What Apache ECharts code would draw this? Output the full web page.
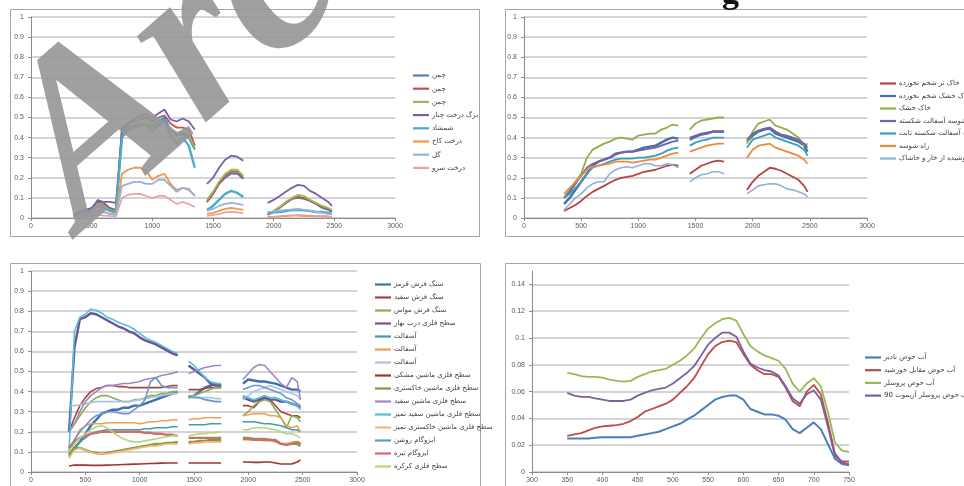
<!DOCTYPE html>
<html>
<head>
<meta charset="utf-8">
<script src="https://cdn.jsdelivr.net/npm/echarts@6/dist/echarts.min.js"></script>
<style>
  html, body { margin: 0; padding: 0; background: #fff; }
  #chart { width: 964px; height: 486px; }
</style>
</head>
<body>
<div id="chart"></div>
<script>
// wavelength grid (nm) for the three full-range panels, 1400 / 1850 are the absorption gaps
const wl = [350, 400, 450, 500, 550, 600, 650, 700, 750, 800, 850, 900, 950, 1000, 1050, 1100, 1150, 1200, 1250, 1300, 1350,
    1400,
    1450, 1500, 1550, 1600, 1650, 1700, 1750,
    1850,
    1950, 2000, 2050, 2100, 2150, 2200, 2250, 2300, 2350, 2400, 2450, 2480];

// panel 1 - vegetation
const p1Names = ['چمن|1', 'چمن|2', 'چمن|3', 'برگ درخت چنار', 'شمشاد', 'درخت کاج', 'گل', 'درخت سرو'];
const p1Colors = ['#4F81BD', '#C0504D', '#9BBB59', '#7B5FA6', '#4BACC6', '#F79646', '#8EB4E3', '#E6A0A0'];
const p1Widths = [1.8, 1.8, 1.8, 1.8, 2.4, 1.8, 1.8, 1.6];
const grass1 = [0.015, 0.025, 0.035, 0.045, 0.09, 0.075, 0.05, 0.04, 0.44, 0.46, 0.46, 0.47, 0.47, 0.46, 0.48, 0.50, 0.44, 0.41, 0.42, 0.40, 0.34,
    null, 0.08, 0.12, 0.17, 0.20, 0.22, 0.22, 0.195,
    null, 0.02, 0.035, 0.055, 0.075, 0.095, 0.10, 0.095, 0.085, 0.07, 0.05, 0.04, 0.03];
const grass2 = [0.01, 0.02, 0.03, 0.04, 0.08, 0.07, 0.045, 0.035, 0.45, 0.47, 0.48, 0.49, 0.50, 0.48, 0.50, 0.51, 0.47, 0.45, 0.45, 0.44, 0.36,
    null, 0.08, 0.12, 0.17, 0.21, 0.23, 0.23, 0.20,
    null, 0.015, 0.03, 0.05, 0.075, 0.095, 0.105, 0.10, 0.085, 0.07, 0.055, 0.045, 0.035];
const grass3 = [0.012, 0.02, 0.03, 0.04, 0.07, 0.06, 0.04, 0.03, 0.42, 0.45, 0.46, 0.47, 0.47, 0.45, 0.47, 0.48, 0.44, 0.42, 0.43, 0.41, 0.35,
    null, 0.09, 0.13, 0.18, 0.22, 0.24, 0.24, 0.21,
    null, 0.02, 0.035, 0.055, 0.08, 0.10, 0.115, 0.11, 0.09, 0.075, 0.06, 0.05, 0.04];
const plane = [0.02, 0.03, 0.04, 0.05, 0.085, 0.08, 0.08, 0.075, 0.43, 0.47, 0.49, 0.51, 0.515, 0.50, 0.52, 0.54, 0.49, 0.48, 0.495, 0.48, 0.44,
    null, 0.17, 0.20, 0.25, 0.29, 0.31, 0.305, 0.285,
    null, 0.075, 0.09, 0.11, 0.13, 0.15, 0.165, 0.16, 0.135, 0.12, 0.10, 0.08, 0.06];
const boxwood = [0.01, 0.015, 0.025, 0.035, 0.06, 0.05, 0.035, 0.025, 0.40, 0.44, 0.45, 0.46, 0.46, 0.43, 0.46, 0.49, 0.41, 0.37, 0.40, 0.36, 0.25,
    null, 0.04, 0.06, 0.09, 0.12, 0.135, 0.125, 0.105,
    null, 0.025, 0.028, 0.03, 0.035, 0.04, 0.04, 0.038, 0.035, 0.03, 0.03, 0.025, 0.02];
const pine = [0.005, 0.01, 0.015, 0.02, 0.035, 0.03, 0.02, 0.015, 0.22, 0.24, 0.25, 0.25, 0.235, 0.19, 0.21, 0.22, 0.17, 0.14, 0.15, 0.145, 0.11,
    null, 0.02, 0.025, 0.035, 0.045, 0.05, 0.045, 0.04,
    null, 0.005, 0.006, 0.008, 0.01, 0.012, 0.012, 0.01, 0.01, 0.008, 0.008, 0.007, 0.006];
const flower = [0.008, 0.012, 0.018, 0.022, 0.03, 0.028, 0.02, 0.015, 0.16, 0.17, 0.18, 0.18, 0.17, 0.17, 0.19, 0.19, 0.16, 0.13, 0.15, 0.14, 0.11,
    null, 0.035, 0.045, 0.06, 0.07, 0.075, 0.07, 0.065,
    null, 0.03, 0.032, 0.035, 0.04, 0.042, 0.045, 0.04, 0.035, 0.03, 0.025, 0.02, 0.02];
const cypress = [0.003, 0.005, 0.008, 0.01, 0.015, 0.012, 0.01, 0.008, 0.10, 0.115, 0.12, 0.12, 0.11, 0.10, 0.11, 0.11, 0.09, 0.07, 0.08, 0.07, 0.055,
    null, 0.01, 0.015, 0.02, 0.028, 0.03, 0.028, 0.025,
    null, 0.005, 0.006, 0.008, 0.012, 0.014, 0.015, 0.014, 0.012, 0.01, 0.01, 0.008, 0.007];
const p1Data = [grass1, grass2, grass3, plane, boxwood, pine, flower, cypress];

// panel 2 - soils and roads
const p2Names = ['خاک تر شخم نخورده', 'خاک خشک شخم نخورده', 'خاک خشک', 'راه شوسه آسفالت شکسته', 'راه شوسه آسفالت شکسته ثابت', 'راه شوسه', 'خاک پوشیده از خار و خاشاک'];
const p2Colors = ['#B8433F', '#4A6FA8', '#8DB04C', '#7361A8', '#3AA0B8', '#F08A3A', '#8FB0D8'];
const p2Widths = [1.8, 2.4, 1.8, 1.8, 1.8, 1.8, 1.6];
const wetSoil = [0.035, 0.05, 0.065, 0.085, 0.11, 0.13, 0.145, 0.16, 0.175, 0.19, 0.20, 0.205, 0.21, 0.22, 0.23, 0.235, 0.24, 0.25, 0.26, 0.265, 0.26,
    null, 0.22, 0.24, 0.26, 0.27, 0.28, 0.285, 0.28,
    null, 0.14, 0.18, 0.21, 0.23, 0.25, 0.245, 0.235, 0.22, 0.205, 0.19, 0.16, 0.13];
const drySoilUntilled = [0.07, 0.10, 0.14, 0.18, 0.22, 0.26, 0.28, 0.29, 0.30, 0.32, 0.325, 0.33, 0.33, 0.34, 0.35, 0.355, 0.36, 0.375, 0.39, 0.40, 0.395,
    null, 0.39, 0.405, 0.415, 0.42, 0.43, 0.43, 0.43,
    null, 0.38, 0.41, 0.43, 0.44, 0.445, 0.42, 0.41, 0.40, 0.39, 0.38, 0.36, 0.33];
const drySoil = [0.10, 0.14, 0.18, 0.22, 0.30, 0.34, 0.355, 0.37, 0.38, 0.395, 0.40, 0.395, 0.39, 0.41, 0.415, 0.42, 0.42, 0.44, 0.45, 0.465, 0.46,
    null, 0.44, 0.47, 0.485, 0.49, 0.495, 0.50, 0.50,
    null, 0.37, 0.43, 0.47, 0.48, 0.49, 0.46, 0.45, 0.44, 0.42, 0.40, 0.36, 0.37];
const brokenAsphalt = [0.10, 0.13, 0.17, 0.21, 0.25, 0.27, 0.28, 0.29, 0.30, 0.315, 0.325, 0.33, 0.33, 0.335, 0.34, 0.345, 0.35, 0.36, 0.37, 0.38, 0.385,
    null, 0.40, 0.41, 0.42, 0.425, 0.43, 0.43, 0.43,
    null, 0.39, 0.42, 0.435, 0.445, 0.45, 0.43, 0.415, 0.41, 0.40, 0.39, 0.37, 0.35];
const brokenAsphaltFixed = [0.10, 0.12, 0.15, 0.18, 0.22, 0.25, 0.26, 0.27, 0.28, 0.29, 0.295, 0.295, 0.295, 0.30, 0.30, 0.305, 0.31, 0.32, 0.335, 0.345, 0.35,
    null, 0.36, 0.375, 0.385, 0.39, 0.40, 0.40, 0.40,
    null, 0.35, 0.39, 0.40, 0.41, 0.42, 0.40, 0.39, 0.38, 0.37, 0.36, 0.34, 0.31];
const gravelRoad = [0.12, 0.15, 0.18, 0.21, 0.24, 0.255, 0.26, 0.265, 0.27, 0.28, 0.28, 0.28, 0.275, 0.28, 0.285, 0.29, 0.29, 0.30, 0.31, 0.32, 0.325,
    null, 0.33, 0.34, 0.35, 0.36, 0.365, 0.37, 0.37,
    null, 0.30, 0.34, 0.36, 0.365, 0.37, 0.35, 0.34, 0.33, 0.32, 0.31, 0.29, 0.27];
const weedySoil = [0.04, 0.07, 0.10, 0.12, 0.15, 0.17, 0.18, 0.18, 0.22, 0.24, 0.25, 0.255, 0.25, 0.26, 0.27, 0.27, 0.26, 0.26, 0.27, 0.265, 0.25,
    null, 0.18, 0.20, 0.215, 0.22, 0.23, 0.23, 0.22,
    null, 0.12, 0.14, 0.16, 0.165, 0.17, 0.17, 0.16, 0.145, 0.14, 0.13, 0.12, 0.105];
const p2Data = [wetSoil, drySoilUntilled, drySoil, brokenAsphalt, brokenAsphaltFixed, gravelRoad, weedySoil];

// panel 3 - urban surfaces
const p3Names = ['سنگ فرش قرمز', 'سنگ فرش سفید', 'سنگ فرش مواس', 'سطح فلزی درب بهار', 'آسفالت|1', 'آسفالت|2', 'آسفالت|3',
    'سطح فلزی ماشین مشکی', 'سطح فلزی ماشین خاکستری', 'سطح فلزی ماشین سفید', 'سطح فلزی ماشین سفید تمیز',
    'سطح فلزی ماشین خاکستری تمیز', 'ایزوگام روشن', 'ایزوگام تیره', 'سطح فلزی کرکره'];
const p3Colors = ['#3F6FAE', '#A8423F', '#8AAE4E', '#6A559A', '#3D9DB5', '#E9A15C', '#A9C4E4', '#9E3531', '#7AA03E',
    '#9C87C4', '#4FC0D6', '#F5B47C', '#6F95C8', '#C96F6C', '#B4D67C'];
const p3Widths = [2.4, 1.6, 1.6, 2.4, 1.6, 1.6, 1.6, 1.6, 2.4, 1.6, 1.6, 1.6, 1.6, 2.4, 1.6];
const redPaving = [0.09, 0.12, 0.15, 0.19, 0.23, 0.26, 0.29, 0.30, 0.31, 0.31, 0.32, 0.32, 0.33, 0.33, 0.34, 0.35, 0.36, 0.37, 0.38, 0.39, 0.40,
    null, 0.37, 0.38, 0.40, 0.42, 0.43, 0.44, 0.43,
    null, 0.44, 0.46, 0.455, 0.45, 0.45, 0.445, 0.44, 0.43, 0.42, 0.41, 0.41, 0.40];
const whitePaving = [0.20, 0.27, 0.33, 0.37, 0.40, 0.415, 0.42, 0.43, 0.43, 0.425, 0.425, 0.42, 0.42, 0.42, 0.42, 0.42, 0.42, 0.42, 0.425, 0.43, 0.43,
    null, 0.41, 0.41, 0.41, 0.415, 0.42, 0.42, 0.42,
    null, 0.33, 0.33, 0.32, 0.35, 0.37, 0.36, 0.33, 0.30, 0.29, 0.28, 0.28, 0.27];
const greyPaving = [0.20, 0.24, 0.28, 0.32, 0.35, 0.37, 0.38, 0.38, 0.37, 0.36, 0.35, 0.35, 0.36, 0.36, 0.37, 0.38, 0.38, 0.39, 0.39, 0.40, 0.40,
    null, 0.37, 0.38, 0.39, 0.40, 0.41, 0.42, 0.42,
    null, 0.28, 0.30, 0.33, 0.35, 0.36, 0.35, 0.31, 0.27, 0.22, 0.28, 0.27, 0.25];
const metalDoor = [0.20, 0.62, 0.76, 0.77, 0.79, 0.785, 0.77, 0.755, 0.74, 0.725, 0.715, 0.70, 0.69, 0.67, 0.655, 0.645, 0.635, 0.62, 0.605, 0.59, 0.58,
    null, 0.53, 0.51, 0.49, 0.47, 0.44, 0.43, 0.43,
    null, 0.37, 0.36, 0.35, 0.36, 0.37, 0.36, 0.36, 0.35, 0.35, 0.34, 0.33, 0.32];
const asphalt1 = [0.09, 0.12, 0.15, 0.17, 0.19, 0.20, 0.205, 0.21, 0.21, 0.21, 0.21, 0.21, 0.21, 0.21, 0.215, 0.215, 0.22, 0.22, 0.22, 0.225, 0.225,
    null, 0.235, 0.235, 0.235, 0.235, 0.24, 0.24, 0.24,
    null, 0.25, 0.25, 0.25, 0.245, 0.24, 0.24, 0.235, 0.23, 0.22, 0.21, 0.21, 0.20];
const asphalt2 = [0.07, 0.16, 0.21, 0.23, 0.24, 0.24, 0.24, 0.245, 0.245, 0.245, 0.245, 0.245, 0.245, 0.24, 0.245, 0.25, 0.25, 0.255, 0.255, 0.26, 0.26,
    null, 0.26, 0.265, 0.265, 0.27, 0.27, 0.27, 0.27,
    null, 0.28, 0.285, 0.29, 0.29, 0.29, 0.28, 0.28, 0.27, 0.23, 0.22, 0.23, 0.20];
const asphalt3 = [0.33, 0.33, 0.335, 0.34, 0.345, 0.35, 0.35, 0.35, 0.35, 0.35, 0.35, 0.35, 0.355, 0.36, 0.365, 0.37, 0.375, 0.38, 0.385, 0.39, 0.39,
    null, 0.38, 0.375, 0.37, 0.37, 0.37, 0.365, 0.365,
    null, 0.36, 0.38, 0.40, 0.41, 0.42, 0.43, 0.42, 0.41, 0.40, 0.39, 0.38, 0.36];
const blackCar = [0.03, 0.035, 0.034, 0.034, 0.033, 0.033, 0.033, 0.034, 0.035, 0.036, 0.037, 0.038, 0.039, 0.04, 0.041, 0.042, 0.043, 0.044, 0.045, 0.045, 0.045,
    null, 0.045, 0.045, 0.045, 0.045, 0.045, 0.045, 0.045,
    null, 0.05, 0.05, 0.048, 0.048, 0.05, 0.05, 0.045, 0.04, 0.04, 0.04, 0.05, 0.06];
const greyCar = [0.08, 0.12, 0.12, 0.11, 0.10, 0.095, 0.09, 0.095, 0.10, 0.105, 0.11, 0.115, 0.12, 0.125, 0.13, 0.135, 0.14, 0.14, 0.145, 0.145, 0.15,
    null, 0.15, 0.15, 0.155, 0.155, 0.16, 0.16, 0.16,
    null, 0.17, 0.17, 0.165, 0.165, 0.165, 0.16, 0.16, 0.14, 0.14, 0.14, 0.14, 0.13];
const whiteCar = [0.20, 0.24, 0.30, 0.35, 0.38, 0.40, 0.42, 0.43, 0.43, 0.435, 0.44, 0.44, 0.445, 0.45, 0.46, 0.465, 0.47, 0.48, 0.485, 0.49, 0.50,
    null, 0.49, 0.50, 0.51, 0.52, 0.525, 0.53, 0.53,
    null, 0.46, 0.49, 0.52, 0.535, 0.53, 0.50, 0.47, 0.44, 0.42, 0.47, 0.45, 0.36];
const whiteCarClean = [0.10, 0.70, 0.77, 0.785, 0.81, 0.805, 0.79, 0.77, 0.76, 0.745, 0.735, 0.725, 0.71, 0.69, 0.67, 0.655, 0.645, 0.63, 0.615, 0.60, 0.59,
    null, 0.55, 0.53, 0.50, 0.47, 0.45, 0.44, 0.44,
    null, 0.38, 0.37, 0.36, 0.37, 0.38, 0.37, 0.37, 0.36, 0.35, 0.34, 0.33, 0.31];
const greyCarClean = [0.07, 0.11, 0.12, 0.11, 0.10, 0.09, 0.09, 0.09, 0.095, 0.10, 0.105, 0.11, 0.115, 0.12, 0.125, 0.13, 0.13, 0.135, 0.14, 0.14, 0.14,
    null, 0.14, 0.145, 0.145, 0.15, 0.15, 0.15, 0.15,
    null, 0.16, 0.16, 0.16, 0.16, 0.155, 0.155, 0.15, 0.14, 0.14, 0.15, 0.15, 0.14];
const isogamLight = [0.12, 0.16, 0.20, 0.23, 0.26, 0.28, 0.29, 0.30, 0.30, 0.295, 0.29, 0.29, 0.31, 0.33, 0.36, 0.45, 0.47, 0.43, 0.42, 0.42, 0.42,
    null, 0.38, 0.37, 0.37, 0.36, 0.355, 0.35, 0.35,
    null, 0.41, 0.42, 0.43, 0.43, 0.42, 0.41, 0.40, 0.39, 0.37, 0.36, 0.34, 0.33];
const isogamDark = [0.12, 0.15, 0.17, 0.18, 0.19, 0.195, 0.20, 0.20, 0.20, 0.20, 0.20, 0.20, 0.20, 0.20, 0.195, 0.195, 0.19, 0.19, 0.185, 0.185, 0.18,
    null, 0.17, 0.17, 0.17, 0.17, 0.17, 0.17, 0.17,
    null, 0.165, 0.165, 0.16, 0.16, 0.16, 0.16, 0.155, 0.14, 0.135, 0.14, 0.15, 0.14];
const shutter = [0.10, 0.14, 0.17, 0.19, 0.21, 0.225, 0.23, 0.22, 0.20, 0.18, 0.165, 0.155, 0.15, 0.15, 0.155, 0.16, 0.165, 0.17, 0.175, 0.18, 0.18,
    null, 0.18, 0.185, 0.19, 0.19, 0.195, 0.195, 0.20,
    null, 0.21, 0.21, 0.22, 0.22, 0.22, 0.215, 0.21, 0.20, 0.19, 0.19, 0.18, 0.17];
const p3Data = [redPaving, whitePaving, greyPaving, metalDoor, asphalt1, asphalt2, asphalt3, blackCar, greyCar,
    whiteCar, whiteCarClean, greyCarClean, isogamLight, isogamDark, shutter];

// panel 4 - pool water, 350-750 nm
const wl4 = [350, 360, 370, 380, 390, 400, 410, 420, 430, 440, 450, 460, 470, 480, 490, 500, 510, 520, 530, 540,
    550, 560, 570, 580, 590, 600, 610, 620, 630, 640, 650, 660, 670, 680, 690, 700, 710, 720, 730, 740, 750];
const p4Names = ['آب حوض نادیر', 'آب حوض مقابل خورشید', 'آب حوض پروسلر', 'آب حوض پروسلر آزیموت 90'];
const p4Colors = ['#4A7EBB', '#BE4B48', '#98B954', '#7D60A0'];
const p4Widths = [2, 1.8, 1.8, 1.8];
const nadir = [0.025, 0.025, 0.025, 0.025, 0.0255, 0.026, 0.026, 0.026, 0.026, 0.026, 0.027, 0.028, 0.029, 0.030, 0.032, 0.034, 0.036, 0.039, 0.042, 0.046,
    0.050, 0.054, 0.056, 0.057, 0.057, 0.054, 0.047, 0.045, 0.043, 0.043, 0.042, 0.039, 0.032, 0.029, 0.033, 0.037, 0.032, 0.021, 0.010, 0.006, 0.005];
const sunward = [0.027, 0.028, 0.029, 0.031, 0.033, 0.034, 0.0345, 0.035, 0.036, 0.038, 0.041, 0.045, 0.047, 0.049, 0.051, 0.054, 0.059, 0.064, 0.070, 0.079,
    0.088, 0.094, 0.097, 0.098, 0.097, 0.088, 0.080, 0.076, 0.073, 0.073, 0.071, 0.063, 0.053, 0.049, 0.060, 0.065, 0.058, 0.037, 0.014, 0.007, 0.006];
const proseler = [0.074, 0.073, 0.0715, 0.071, 0.071, 0.0705, 0.069, 0.068, 0.0675, 0.068, 0.071, 0.073, 0.075, 0.076, 0.077, 0.080, 0.083, 0.087, 0.092, 0.100,
    0.107, 0.111, 0.114, 0.115, 0.113, 0.103, 0.094, 0.090, 0.087, 0.085, 0.083, 0.077, 0.066, 0.060, 0.066, 0.070, 0.064, 0.045, 0.022, 0.016, 0.015];
const proseler90 = [0.059, 0.057, 0.056, 0.056, 0.055, 0.054, 0.053, 0.053, 0.053, 0.054, 0.057, 0.059, 0.061, 0.062, 0.063, 0.066, 0.070, 0.074, 0.079, 0.087,
    0.095, 0.100, 0.104, 0.104, 0.101, 0.090, 0.081, 0.078, 0.076, 0.075, 0.072, 0.064, 0.055, 0.051, 0.058, 0.061, 0.054, 0.034, 0.012, 0.008, 0.008];
const p4Data = [nadir, sunward, proseler, proseler90];

const chart = echarts.init(document.getElementById('chart'));

const lab = { fontSize: 7, color: '#595959', fontFamily: 'Liberation Sans' };
const axisLine = { lineStyle: { color: '#8a8a8a', width: 1 } };

function xAx(gi, min, max, interval) {
    return {
        type: 'value', gridIndex: gi, min, max, interval,
        axisLine: { show: true, onZero: false, ...axisLine },
        axisTick: { show: true, length: 3, lineStyle: { color: '#8a8a8a' } },
        axisLabel: { ...lab, margin: 5, formatter: (v) => String(v) },
        splitLine: { show: false },
    };
}
function yAx(gi, max, interval) {
    return {
        type: 'value', gridIndex: gi, min: 0, max, interval,
        axisLine: { show: true, ...axisLine },
        axisTick: { show: true, length: 3, lineStyle: { color: '#8a8a8a' } },
        axisLabel: { ...lab, margin: 7, showMaxLabel: max === 1, formatter: (v) => String(+v.toFixed(2)) },
        splitLine: { show: true, showMaxLine: max === 1, lineStyle: { color: '#c6c6c6', width: 1.6 } },
    };
}
function legend(names, left, top, gap) {
    return {
        data: names, orient: 'vertical', left, top, itemGap: gap,
        icon: 'rect', itemWidth: 16, itemHeight: 2.2,
        textStyle: { fontSize: 7, color: '#404040', fontFamily: 'DejaVu Sans', lineHeight: 9, padding: [0, 0, 0, -2] },
        formatter: (n) => n.split('|')[0],
        padding: 0,
    };
}

const series = [];
function addSeries(names, colors, widths, data, xs, gi) {
    names.forEach((name, k) => {
        series.push({
            name, type: 'line', xAxisIndex: gi, yAxisIndex: gi,
            data: xs.map((x, i) => [x, data[k][i] == null ? '-' : data[k][i]]),
            showSymbol: false, symbol: 'none', connectNulls: false,
            itemStyle: { color: colors[k] },
            lineStyle: { color: colors[k], width: widths[k] },
        });
    });
}
addSeries(p1Names, p1Colors, p1Widths, p1Data, wl, 0);
addSeries(p2Names, p2Colors, p2Widths, p2Data, wl, 1);
addSeries(p3Names, p3Colors, p3Widths, p3Data, wl, 2);
addSeries(p4Names, p4Colors, p4Widths, p4Data, wl4, 3);

const frame = { stroke: '#a6a6a6', fill: 'none', lineWidth: 1 };

chart.setOption({
    animation: false,
    grid: [
        { left: 31, right: 569, top: 17, bottom: 268 },
        { left: 524, right: 97, top: 17, bottom: 268 },
        { left: 31, right: 607, top: 271, bottom: 14 },
        { left: 532, right: 115, top: 271, bottom: 14 },
    ],
    xAxis: [xAx(0, 0, 3000, 500), xAx(1, 0, 3000, 500), xAx(2, 0, 3000, 500), xAx(3, 300, 750, 50)],
    yAxis: [yAx(0, 1, 0.1), yAx(1, 1, 0.1), yAx(2, 1, 0.1), yAx(3, 0.15, 0.02)],
    legend: [
        legend(p1Names, 413, 71, 4.2),
        legend(p2Names, 880, 79, 3.5),
        legend(p3Names, 375, 280, 4),
        legend(p4Names, 865, 353, 3.7),
    ],
    graphic: [
        { type: 'rect', shape: { x: 10.5, y: 9.5, width: 469, height: 227 }, style: frame, silent: true },
        { type: 'rect', shape: { x: 505.5, y: 9.5, width: 480, height: 227 }, style: frame, silent: true },
        { type: 'rect', shape: { x: 10.5, y: 263.5, width: 470, height: 240 }, style: frame, silent: true },
        { type: 'rect', shape: { x: 505.5, y: 263.5, width: 480, height: 240 }, style: frame, silent: true },
        {
            type: 'text', x: 722, y: 11, silent: true,
            style: { text: 'g', fill: '#111', font: 'bold 34px "Liberation Serif"', textVerticalAlign: 'bottom' },
        },
        {
            type: 'text', x: 120, y: 275, rotation: 0.72, z: 100, silent: true,
            style: {
                text: 'Archive', fill: 'rgba(150,150,150,0.9)',
                font: 'italic bold 240px "Liberation Serif"', textVerticalAlign: 'bottom',
            },
        },
    ],
    series,
});
</script>
</body>
</html>
